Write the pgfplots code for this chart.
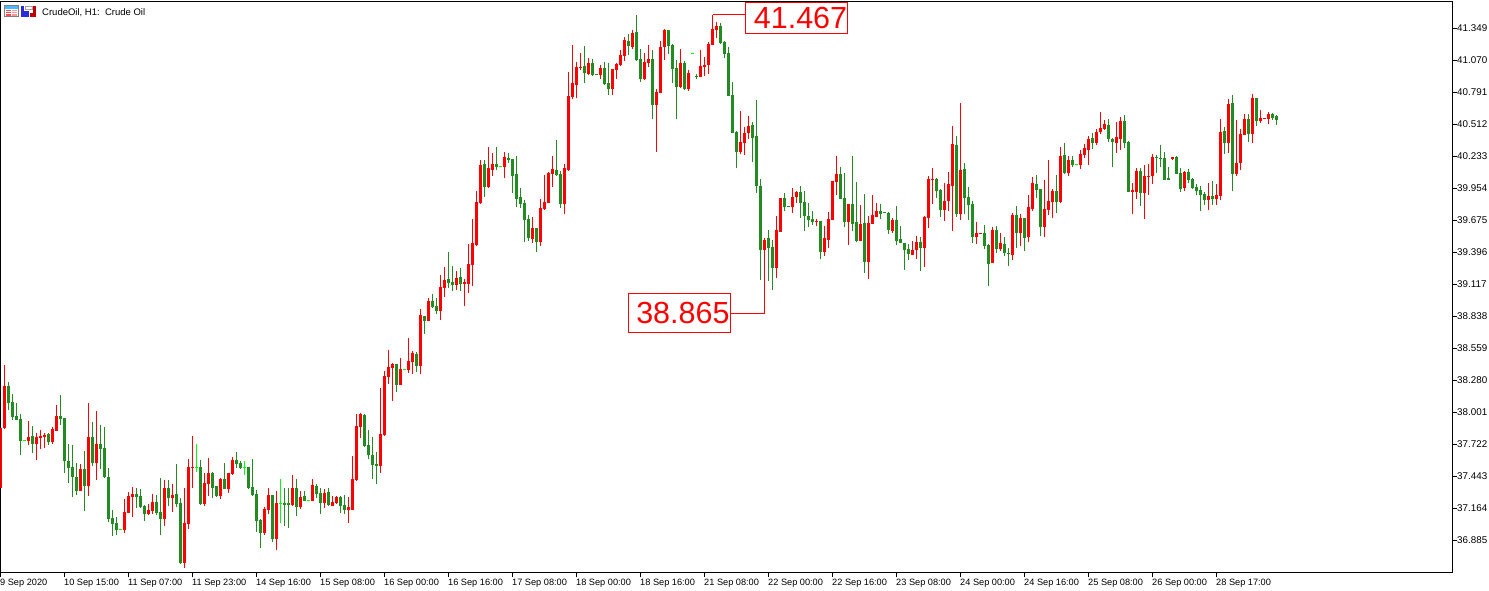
\documentclass[border=0pt]{standalone}
\usepackage{fontspec}
\setmainfont{Liberation Sans}
\usepackage{pgfplots}
\usepackage{pgfplotstable}
\pgfplotsset{compat=1.18}
\definecolor{cgreen}{HTML}{228B22}
\definecolor{clime}{HTML}{00FF00}
\definecolor{cred}{HTML}{FF0000}
\pgfplotstableread{
x open high low close
0 37.343 37.866 37.343 37.866
1 37.866 38.415 37.857 38.232
7 37.752 37.927 37.717 37.788
9 37.726 37.823 37.587 37.788
10 37.779 37.849 37.683 37.797
11 37.788 37.823 37.691 37.805
13 37.743 37.875 37.726 37.857
14 37.840 38.066 37.840 37.971
20 37.316 37.552 37.316 37.509
22 37.360 38.084 37.273 37.788
24 37.561 38.014 37.413 37.726
31 36.977 37.247 36.951 37.134
32 37.125 37.308 37.125 37.273
33 37.264 37.351 37.090 37.290
37 37.116 37.203 37.107 37.151
38 37.142 37.290 37.116 37.221
41 37.073 37.413 37.012 37.343
43 37.255 37.378 37.134 37.281
46 36.689 37.343 36.645 37.038
47 37.029 37.596 36.986 37.526
48 37.517 37.797 37.343 37.526
51 37.203 37.474 37.186 37.387
52 37.378 37.604 37.273 37.474
55 37.273 37.430 37.247 37.421
57 37.334 37.474 37.299 37.474
58 37.465 37.613 37.456 37.587
66 36.951 37.177 36.933 37.160
67 37.151 37.343 37.116 37.281
69 36.899 37.316 36.802 37.212
73 37.194 37.456 37.186 37.343
75 37.177 37.316 37.160 37.264
78 37.229 37.421 37.229 37.369
81 37.212 37.334 37.168 37.299
83 37.186 37.273 37.186 37.221
84 37.212 37.273 37.203 37.264
87 37.151 37.264 37.038 37.177
88 37.151 37.622 37.151 37.421
89 37.413 37.988 37.404 37.884
90 37.875 37.997 37.779 37.988
95 37.535 38.214 37.474 37.814
96 37.805 38.363 37.797 38.319
97 38.310 38.546 38.249 38.398
98 38.389 38.433 38.101 38.424
100 38.241 38.476 38.241 38.380
102 38.372 38.650 38.346 38.450
103 38.441 38.537 38.337 38.520
105 38.406 38.903 38.337 38.851
107 38.799 38.999 38.799 38.973
110 38.886 39.200 38.808 39.095
111 39.086 39.269 39.008 39.156
114 39.113 39.235 39.069 39.174
116 39.121 39.165 38.929 39.139
117 39.121 39.470 39.043 39.296
118 39.287 39.688 39.104 39.479
119 39.461 39.932 39.453 39.836
120 39.828 40.203 39.819 40.159
122 39.967 40.316 39.958 40.133
123 40.115 40.264 40.063 40.168
126 40.141 40.273 40.046 40.229
133 39.513 39.705 39.479 39.610
135 39.487 39.863 39.453 39.784
136 39.776 40.072 39.767 39.836
137 39.828 40.098 39.828 40.089
138 40.081 40.238 39.967 40.124
141 39.819 40.168 39.732 40.133
142 40.115 40.970 40.107 40.761
143 40.752 41.205 40.735 40.874
144 40.856 41.057 40.743 41.013
145 41.004 41.135 40.987 41.013
147 40.952 41.092 40.944 41.048
150 40.944 41.031 40.909 41.004
153 40.822 40.996 40.769 40.996
154 40.987 41.048 40.909 41.039
155 41.031 41.162 41.022 41.118
156 41.109 41.275 41.066 41.249
158 41.188 41.336 41.170 41.310
161 40.909 41.135 40.900 41.057
162 41.048 41.205 41.013 41.083
164 40.682 40.822 40.273 40.796
165 40.787 41.240 40.787 41.188
166 41.188 41.345 41.074 41.336
170 40.839 41.170 40.830 41.048
172 40.822 40.987 40.804 40.961
175 40.926 41.162 40.926 41.022
176 41.013 41.101 40.935 41.031
177 41.031 41.231 40.952 41.214
178 41.205 41.467 41.205 41.345
179 41.336 41.406 41.266 41.371
185 40.273 40.630 40.255 40.359
186 40.351 40.490 40.246 40.438
187 40.438 40.586 40.386 40.499
191 39.418 39.522 38.865 39.505
194 39.261 39.714 39.174 39.592
195 39.575 39.871 39.575 39.871
198 39.793 39.958 39.741 39.880
199 39.880 39.932 39.828 39.924
204 39.662 39.688 39.627 39.671
206 39.400 39.627 39.366 39.522
207 39.505 39.749 39.435 39.688
208 39.679 40.019 39.679 40.019
209 40.011 40.238 39.897 40.081
212 39.662 39.819 39.461 39.819
215 39.496 39.810 39.496 39.644
217 39.313 39.714 39.165 39.653
218 39.644 39.897 39.644 39.723
219 39.705 39.828 39.705 39.758
223 39.583 39.697 39.566 39.679
228 39.374 39.496 39.374 39.418
229 39.418 39.540 39.339 39.487
231 39.435 39.714 39.269 39.705
232 39.697 40.063 39.610 40.037
233 40.028 40.133 39.819 40.037
236 39.767 40.002 39.671 39.845
237 39.845 40.098 39.758 39.993
238 39.976 40.499 39.583 40.342
240 39.732 40.699 39.679 40.115
244 39.531 39.662 39.470 39.566
245 39.557 39.566 39.557 39.566
248 39.305 39.618 39.305 39.592
250 39.426 39.566 39.409 39.479
253 39.374 39.741 39.331 39.723
255 39.566 39.732 39.453 39.697
257 39.531 39.897 39.487 39.793
258 39.776 40.054 39.758 40.002
261 39.618 40.028 39.531 39.776
262 39.767 40.203 39.723 39.845
263 39.836 39.950 39.697 39.932
265 39.836 40.316 39.828 40.238
267 40.089 40.238 40.063 40.203
270 40.159 40.290 40.124 40.255
271 40.246 40.342 40.220 40.307
272 40.290 40.412 40.159 40.386
274 40.351 40.473 40.333 40.446
275 40.446 40.621 40.429 40.481
276 40.473 40.551 40.464 40.516
279 40.351 40.534 40.264 40.403
280 40.386 40.577 40.290 40.542
283 39.924 40.002 39.732 39.941
284 39.924 40.133 39.863 40.107
286 39.915 40.159 39.688 40.063
287 40.054 40.168 39.897 40.063
288 40.063 40.255 39.993 40.229
293 40.211 40.229 40.203 40.229
296 39.958 40.107 39.932 40.098
302 39.854 40.002 39.767 39.889
304 39.863 39.993 39.810 39.897
305 39.889 40.560 39.854 40.446
307 40.351 40.735 40.264 40.691
309 40.081 40.551 40.063 40.176
310 40.176 40.473 40.115 40.429
311 40.420 40.604 40.420 40.560
313 40.429 40.778 40.351 40.743
315 40.542 40.638 40.525 40.569
316 40.560 40.569 40.560 40.569
317 40.560 40.621 40.516 40.604
}\redtable
\pgfplotstableread{
x open high low close
2 38.232 38.267 38.023 38.084
3 38.093 38.162 37.936 37.962
4 37.971 38.084 37.936 37.936
5 37.945 37.988 37.630 37.752
8 37.797 37.884 37.648 37.726
12 37.814 37.823 37.717 37.743
15 37.971 38.153 37.892 37.945
16 37.953 37.953 37.474 37.578
17 37.578 37.726 37.387 37.517
18 37.526 37.717 37.264 37.439
19 37.439 37.561 37.281 37.316
21 37.509 37.665 37.142 37.360
23 37.788 37.919 37.535 37.561
25 37.726 37.892 37.509 37.683
26 37.691 37.875 37.430 37.439
27 37.439 37.517 37.047 37.073
28 37.081 37.151 36.925 37.029
29 37.038 37.090 36.933 36.977
34 37.290 37.343 37.168 37.264
35 37.273 37.334 37.168 37.177
36 37.186 37.194 37.055 37.116
39 37.221 37.281 37.107 37.125
40 37.134 37.430 36.933 37.073
42 37.343 37.413 37.186 37.255
44 37.290 37.552 37.177 37.203
45 37.212 37.255 36.680 36.689
50 37.526 37.587 37.194 37.203
53 37.474 37.482 37.255 37.343
54 37.360 37.360 37.264 37.273
56 37.421 37.561 37.334 37.334
59 37.587 37.656 37.517 37.552
60 37.561 37.578 37.509 37.517
62 37.526 37.526 37.334 37.343
63 37.351 37.596 37.273 37.281
64 37.290 37.325 36.960 37.055
65 37.064 37.073 36.820 36.951
68 37.281 37.281 36.873 36.899
71 37.212 37.343 37.012 37.194
72 37.212 37.343 36.995 37.194
74 37.343 37.421 37.099 37.177
76 37.273 37.316 37.229 37.229
79 37.360 37.378 37.255 37.290
80 37.299 37.343 37.116 37.212
82 37.308 37.343 37.186 37.194
85 37.264 37.273 37.125 37.186
86 37.194 37.281 37.116 37.151
91 37.979 37.988 37.700 37.709
92 37.717 37.849 37.596 37.630
93 37.630 37.788 37.421 37.544
94 37.552 37.656 37.378 37.535
99 38.424 38.424 38.180 38.241
104 38.511 38.529 38.354 38.406
106 38.842 38.842 38.685 38.799
108 38.973 39.034 38.912 38.921
109 38.929 38.999 38.860 38.886
112 39.165 39.400 39.086 39.130
113 39.139 39.278 39.060 39.113
115 39.182 39.261 39.060 39.121
121 40.168 40.203 39.880 39.967
124 40.168 40.316 40.115 40.141
127 40.220 40.264 40.176 40.203
128 40.211 40.211 39.915 40.063
129 40.081 40.238 39.793 39.863
130 39.880 39.958 39.784 39.819
131 39.828 39.854 39.487 39.679
132 39.688 39.723 39.496 39.522
134 39.610 39.610 39.400 39.487
139 40.115 40.377 40.063 40.072
140 40.081 40.107 39.784 39.819
146 41.022 41.196 40.874 40.961
148 41.048 41.083 40.935 40.944
149 40.952 40.952 40.944 40.944
151 41.004 41.057 40.856 40.865
152 40.874 41.048 40.769 40.822
157 41.240 41.301 41.118 41.196
159 41.319 41.467 41.066 41.074
160 41.083 41.170 40.883 40.909
163 41.083 41.162 40.560 40.682
167 41.336 41.336 41.127 41.196
168 41.205 41.214 40.874 40.996
169 41.004 41.074 40.560 40.839
171 41.048 41.066 40.813 40.822
174 40.935 40.952 40.909 40.926
180 41.371 41.397 41.214 41.223
181 41.231 41.240 41.092 41.127
182 41.135 41.188 40.761 40.761
183 40.769 40.883 40.438 40.438
184 40.446 40.455 40.133 40.273
188 40.508 40.534 40.185 40.394
189 40.412 40.726 39.915 39.976
190 39.976 40.037 39.156 39.418
192 39.522 39.592 39.148 39.435
193 39.444 39.505 39.069 39.261
196 39.871 39.915 39.758 39.793
197 39.802 39.802 39.793 39.793
200 39.924 39.976 39.697 39.828
201 39.836 39.932 39.583 39.714
202 39.714 39.828 39.618 39.679
203 39.688 39.758 39.636 39.662
205 39.671 39.671 39.339 39.400
210 40.081 40.141 39.863 39.863
211 39.871 40.089 39.618 39.662
213 39.819 40.238 39.583 39.644
214 39.662 40.011 39.487 39.496
216 39.653 39.906 39.217 39.313
220 39.758 39.819 39.688 39.732
221 39.749 39.749 39.741 39.741
222 39.741 39.749 39.557 39.592
224 39.679 39.802 39.461 39.496
225 39.513 39.627 39.479 39.479
226 39.479 39.479 39.243 39.418
227 39.426 39.470 39.331 39.383
230 39.487 39.531 39.235 39.435
234 40.037 40.046 39.871 39.932
235 39.941 39.950 39.705 39.767
239 40.333 40.412 39.705 39.732
241 40.124 40.176 39.732 39.871
242 39.880 39.967 39.679 39.810
243 39.819 39.845 39.479 39.531
246 39.566 39.636 39.426 39.453
247 39.461 39.470 39.104 39.296
249 39.592 39.627 39.392 39.426
251 39.470 39.531 39.366 39.392
252 39.392 39.435 39.278 39.383
254 39.723 39.802 39.435 39.566
256 39.697 39.697 39.409 39.522
259 39.993 40.072 39.871 39.941
260 39.950 39.950 39.540 39.618
264 39.932 40.072 39.741 39.836
266 40.246 40.351 40.081 40.089
268 40.203 40.238 40.141 40.159
273 40.394 40.438 40.299 40.351
277 40.508 40.560 40.359 40.386
278 40.386 40.394 40.141 40.359
281 40.542 40.595 40.307 40.351
282 40.359 40.368 39.924 39.924
285 40.107 40.133 39.802 39.915
289 40.229 40.246 40.089 40.220
290 40.220 40.333 40.141 40.211
291 40.220 40.273 40.028 40.028
292 40.046 40.141 40.028 40.028
294 40.229 40.238 40.081 40.081
295 40.089 40.133 39.924 39.950
297 40.098 40.124 40.002 40.028
298 40.037 40.046 39.950 39.958
299 39.967 39.993 39.897 39.932
300 39.941 39.976 39.758 39.897
301 39.906 39.924 39.810 39.854
303 39.889 40.019 39.810 39.863
306 40.455 40.490 40.255 40.351
308 40.699 40.769 39.932 40.081
312 40.560 40.604 40.359 40.429
314 40.743 40.743 40.499 40.542
318 40.604 40.612 40.551 40.569
319 40.586 40.595 40.508 40.551
}\greentable
\pgfplotstableread{
x open high low close
6 37.752 37.761 37.752 37.761
30 36.977 36.986 36.977 36.986
49 37.517 37.726 37.482 37.526
61 37.517 37.578 37.456 37.526
70 37.203 37.421 37.038 37.212
77 37.229 37.238 37.229 37.238
101 38.372 38.380 38.372 38.380
125 40.141 40.150 40.141 40.150
173 41.127 41.135 41.127 41.135
269 40.159 40.168 40.159 40.168
}\limetable
\pgfplotsset{
  candle/.style n args={2}{forget plot,draw=none,mark=none,
    error bars/.cd,y dir=plus,y explicit,error mark=none,
    error bar style={draw=#1,line width=#2}},
}
\begin{document}
\begin{tikzpicture}[x=1pt,y=1pt]
\path[use as bounding box] (0,0) rectangle (1489,591);
\begin{axis}[
  at={(0.5pt,18pt)},anchor=south west,
  scale only axis,width=1451.5pt,height=571pt,
  xmin=0,xmax=362.875,ymin=36.6016,ymax=41.5800,
  axis line style={line width=1pt,black},
  tick style={black,line width=1pt},
  tick align=outside,major tick length=4.5pt,
  xtick pos=bottom,ytick pos=right,yticklabel pos=right,
  xtick={0,16,...,304},
  xticklabels={9 Sep 2020,10 Sep 15:00,11 Sep 07:00,11 Sep 23:00,14 Sep 16:00,15 Sep 08:00,16 Sep 00:00,16 Sep 16:00,17 Sep 08:00,18 Sep 00:00,18 Sep 16:00,21 Sep 08:00,22 Sep 00:00,22 Sep 16:00,23 Sep 08:00,24 Sep 00:00,24 Sep 16:00,25 Sep 08:00,26 Sep 00:00,28 Sep 17:00},
  xticklabel style={anchor=north west,inner xsep=0pt,inner ysep=1pt,xshift=-0.5pt,font=\fontsize{9.2}{10}\selectfont},
  ytick={41.349,41.070,40.791,40.512,40.233,39.954,39.675,39.396,39.117,38.838,38.559,38.280,38.001,37.722,37.443,37.164,36.885},
  yticklabel style={anchor=west,inner xsep=0pt,xshift=0.5pt,font=\fontsize{9.8}{10}\selectfont,
    /pgf/number format/.cd,fixed,fixed zerofill,precision=3,1000 sep={},assume math mode=true},
  scaled y ticks=false,
]
\addplot[candle={cred}{1pt}] table[x=x,y=low,y error plus expr=\thisrow{high}-\thisrow{low}]{\redtable};
\addplot[candle={cred}{3pt}] table[x=x,y=open,y error plus expr=\thisrow{close}-\thisrow{open}]{\redtable};
\addplot[candle={cgreen}{1pt}] table[x=x,y=low,y error plus expr=\thisrow{high}-\thisrow{low}]{\greentable};
\addplot[candle={cgreen}{3pt}] table[x=x,y=close,y error plus expr=\thisrow{open}-\thisrow{close}]{\greentable};
\addplot[candle={clime}{1pt}] table[x=x,y=low,y error plus expr=\thisrow{high}-\thisrow{low}]{\limetable};
\addplot[candle={clime}{3pt}] table[x=x,y=open,y error plus expr=\thisrow{close}-\thisrow{open}]{\limetable};
\addplot[cred,line width=1pt,forget plot] coordinates {(178,41.467) (186.4,41.467)};
\addplot[cred,line width=1pt,forget plot] coordinates {(182.6,38.865) (191,38.865) (191,39.418)};
\node[draw=cred,line width=1pt,fill=white,minimum width=102pt,minimum height=31pt,inner sep=0pt] at (axis cs:199.1,41.440) {};
\node[text=cred,inner sep=0pt,font=\fontsize{30.5}{32}\selectfont] at (axis cs:200.0,41.440) {41.467};
\node[draw=cred,line width=1pt,fill=white,minimum width=102.5pt,minimum height=38.5pt,inner sep=0pt] at (axis cs:169.7,38.867) {};
\node[text=cred,inner sep=0pt,font=\fontsize{30.5}{32}\selectfont] at (axis cs:170.6,38.867) {38.865};
\end{axis}
% title and the two window icons
\node[anchor=west,inner sep=0pt,font=\fontsize{9.5}{10}\selectfont] at (42,578.5) {CrudeOil, H1:\ \ Crude Oil};
\draw[gray,fill=white,line width=1pt] (4.5,574.5) rectangle (18,585);
\fill[blue!40!cyan!70!white] (5,582) rectangle (17.5,584.5);
\fill[red!70!white] (5.5,579.7) rectangle (11,581);
\fill[red!70!white] (5.5,577.5) rectangle (11,578.8);
\fill[red!70!white] (5.5,575.3) rectangle (11,576.6);
\fill[red!40!white] (12,579.7) rectangle (17,581);
\fill[red!40!white] (12,577.5) rectangle (17,578.8);
\fill[red!40!white] (12,575.3) rectangle (17,576.6);
\fill[blue!80!white!85!black] (21,573.5) rectangle (28.5,584.5);
\fill[white] (24,580) rectangle (28.5,585);
\fill[red!75!black] (29.5,573.5) rectangle (36,584.5);
\fill[white] (29.5,578) rectangle (33,585);
\fill[gray!70] (25,581) rectangle (33,585);
\fill[white] (26,582) rectangle (32,584);
\end{tikzpicture}
\end{document}
